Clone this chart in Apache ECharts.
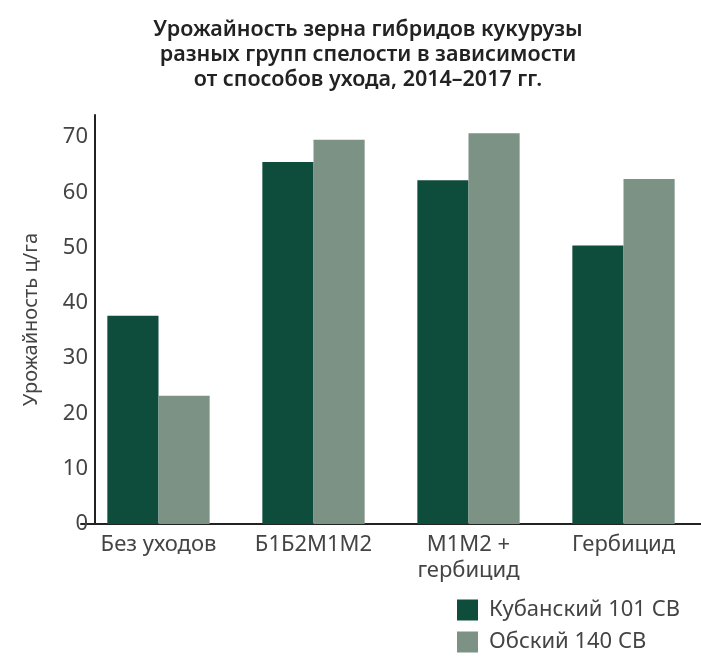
<!DOCTYPE html>
<html>
<head>
<meta charset="utf-8">
<script src="https://cdn.jsdelivr.net/npm/echarts@6/dist/echarts.min.js"></script>
<style>
  html, body { margin: 0; padding: 0; background: #fff; }
  #chart { width: 701px; height: 658px; }
</style>
</head>
<body>
<div id="chart"></div>
<script>
    // данные
    var categories = ['Без уходов', 'Б1Б2М1М2', 'М1М2 +\nгербицид', 'Гербицид'];
    var kuban = [37.7, 65.5, 62.2, 50.4];
    var obsk = [23.2, 69.5, 70.7, 62.4];
    var seriesNames = ['Кубанский 101 СВ', 'Обский 140 СВ'];

    var font = 'Noto Sans';
    var myChart = echarts.init(document.getElementById('chart'));

    var option = {
        backgroundColor: '#fff',
        animation: false,
        textStyle: { fontFamily: font },
        title: {
            text: 'Урожайность зерна гибридов кукурузы\nразных групп спелости в зависимости\nот способов ухода, 2014–2017 гг.',
            left: 363,
            top: 12,
            textAlign: 'center',
            textStyle: {
                fontFamily: font,
                fontSize: 21.5,
                fontWeight: 600,
                lineHeight: 25,
                color: '#222'
            }
        },
        legend: {
            orient: 'vertical',
            left: 452,
            top: 594,
            itemWidth: 21,
            itemHeight: 21,
            itemGap: 10,
            icon: 'rect',
            textStyle: { fontFamily: font, fontSize: 22, color: '#444', padding: [0, 0, 0, 6] },
            data: seriesNames
        },
        grid: { left: 81, right: -3, top: 115, bottom: 134 },
        xAxis: {
            type: 'category',
            data: categories,
            axisLine: { lineStyle: { color: '#222', width: 2 } },
            axisTick: { show: false },
            axisLabel: {
                fontFamily: font,
                fontSize: 22,
                color: '#444',
                lineHeight: 26,
                margin: 8
            }
        },
        yAxis: {
            type: 'value',
            min: 0,
            max: 74,
            interval: 10,
            offset: -14,
            name: 'Урожайность ц/га',
            nameLocation: 'middle',
            nameGap: 54,
            nameTextStyle: { fontFamily: font, fontSize: 20, color: '#444' },
            axisLine: { show: true, lineStyle: { color: '#222', width: 2 } },
            axisTick: { show: false },
            splitLine: { show: false },
            axisLabel: {
                fontFamily: font,
                fontSize: 22,
                color: '#444',
                margin: 7,
                showMaxLabel: false
            }
        },
        series: [
            {
                name: seriesNames[0],
                type: 'bar',
                data: kuban,
                barGap: '0%',
                barCategoryGap: '34%',
                itemStyle: { color: '#0e4d3b' }
            },
            {
                name: seriesNames[1],
                type: 'bar',
                data: obsk,
                itemStyle: { color: '#7b9285' }
            }
        ]
    };

    myChart.setOption(option);
</script>
</body>
</html>
